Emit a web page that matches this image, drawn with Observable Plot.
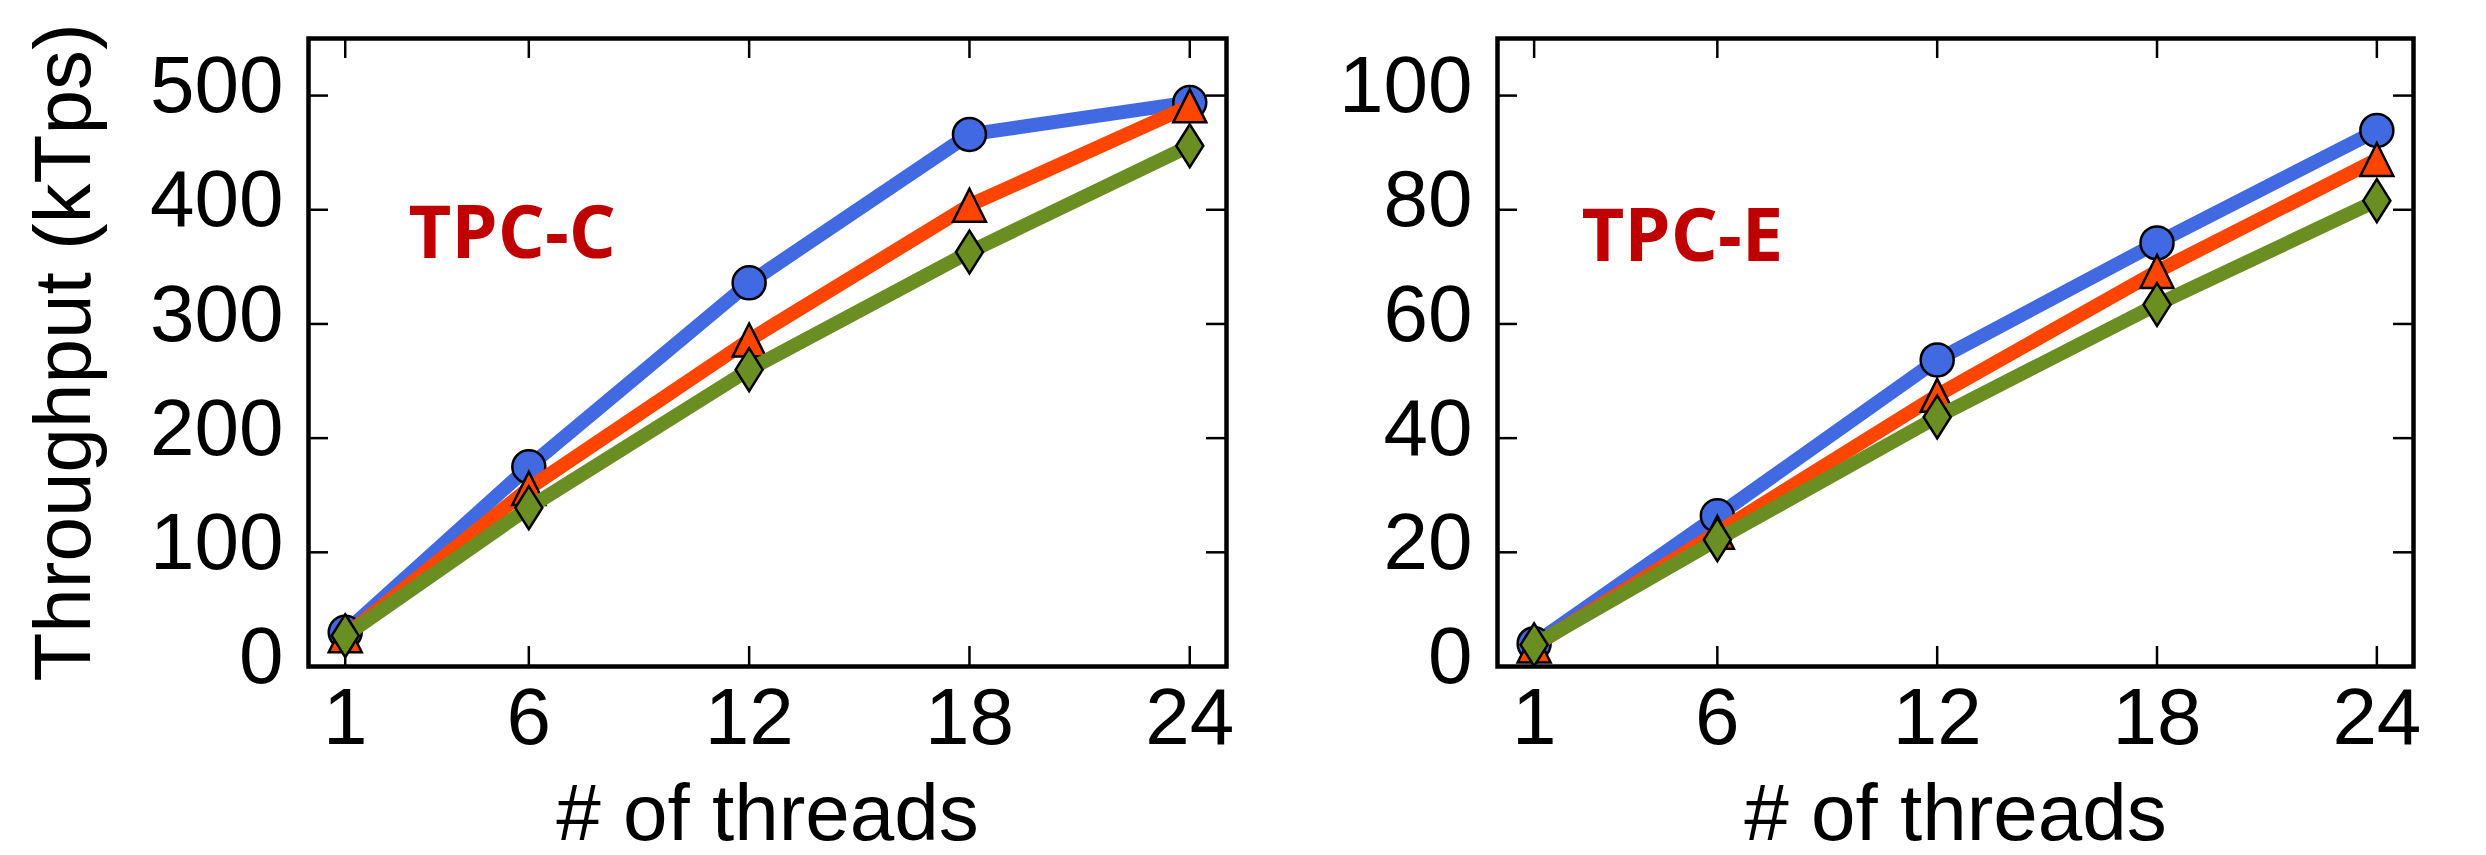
<!DOCTYPE html>
<html>
<head>
<meta charset="utf-8">
<script src="https://cdn.jsdelivr.net/npm/d3@7"></script>
<script src="https://cdn.jsdelivr.net/npm/@observablehq/plot@0.6"></script>
<style>
  html, body { margin: 0; padding: 0; background: white; }
  #chart { position: relative; width: 2486px; height: 855px; background: white; }
  #chart svg { position: absolute; top: 0; }
</style>
</head>
<body>
<div id="chart"></div>
<script>
// ---- data ----
const threads = [1, 6, 12, 18, 24];
const seriesNames = ["series A", "series B", "series C"];
const seriesColors = ["#4169E1", "#FF4500", "#6B8E23"];

const tpccA = [30, 175, 336, 466, 494];
const tpccB = [27, 156, 286, 404, 491];
const tpccC = [27, 139, 260, 363, 456];

const tpceA = [4.0, 26.4, 53.7, 74.2, 93.9];
const tpceB = [3.6, 23.5, 47.5, 69.2, 88.8];
const tpceC = [3.8, 22.2, 43.7, 63.4, 81.6];

const tpccTicks = [0, 100, 200, 300, 400, 500];
const tpceTicks = [0, 20, 40, 60, 80, 100];
const xTicks = [1, 6, 12, 18, 24];

const xLabel = "# of threads";
const yLabel = "Throughput (kTps)";
const panelTitles = ["TPC-C", "TPC-E"];

// ---- helpers ----
function rows(values, name) {
  return threads.map((t, i) => ({threads: t, value: values[i], series: name}));
}

const triangleUp = {
  draw(ctx, size) {
    const r = Math.sqrt(size / Math.PI);
    ctx.moveTo(0, -r);
    ctx.lineTo(r, r);
    ctx.lineTo(-r, r);
    ctx.closePath();
  }
};
const thinDiamond = {
  draw(ctx, size) {
    const r = Math.sqrt(size / Math.PI);
    const w = r * 0.82, h = r * 1.3;
    ctx.moveTo(0, -h);
    ctx.lineTo(w, 0);
    ctx.lineTo(0, h);
    ctx.lineTo(-w, 0);
    ctx.closePath();
  }
};
const symbols = ["circle", triangleUp, thinDiamond];

const FS = 80;

function panel({data, yDomain, yTicks, title, width, marginLeft, marginRight, titleDx, titleDy, showYLabel}) {
  const marginTop = 38, marginBottom = 189, height = 855;
  const H = height - marginTop - marginBottom;
  const W = width - marginLeft - marginRight;
  const tickLen = 20;
  const marks = [];
  // inward ticks on all four sides
  marks.push(Plot.tickX(xTicks, {x: d => d, insetTop: H - tickLen, stroke: "black", strokeWidth: 2.5}));
  marks.push(Plot.tickX(xTicks, {x: d => d, insetBottom: H - tickLen, stroke: "black", strokeWidth: 2.5}));
  marks.push(Plot.tickY(yTicks, {y: d => d, insetRight: W - tickLen, stroke: "black", strokeWidth: 2.5}));
  marks.push(Plot.tickY(yTicks, {y: d => d, insetLeft: W - tickLen, stroke: "black", strokeWidth: 2.5}));
  // series: line then markers, in order
  data.forEach((vals, i) => {
    const d = rows(vals, seriesNames[i]);
    marks.push(Plot.line(d, {x: "threads", y: "value", stroke: "series", strokeWidth: 14, strokeLinejoin: "round", strokeLinecap: "butt"}));
    marks.push(Plot.dot(d, {x: "threads", y: "value", fill: "series", symbol: symbols[i], r: 16.5, stroke: "black", strokeWidth: 2.5}));
  });
  marks.push(Plot.frame({stroke: "black", strokeWidth: 4.5}));
  marks.push(Plot.axisX(xTicks, {tickSize: 0, tickPadding: 21, label: null, fontSize: FS}));
  marks.push(Plot.axisY(yTicks, {tickSize: 0, tickPadding: 25, label: null, fontSize: FS, dy: -9}));
  marks.push(Plot.text([xLabel], {text: d => d, frameAnchor: "bottom", lineAnchor: "middle", dy: 148, fontSize: FS}));
  if (showYLabel) {
    marks.push(Plot.text([yLabel], {text: d => d, frameAnchor: "left", textAnchor: "middle", lineAnchor: "middle", rotate: -90, dx: -244, fontSize: FS}));
  }
  marks.push(Plot.text([title], {text: d => d, frameAnchor: "top-left", textAnchor: "start", lineAnchor: "top", dx: titleDx, dy: titleDy, fill: "#C00000", fontSize: 74, fontWeight: 700, fontFamily: "Open Sans, Noto Sans, sans-serif"}));
  return Plot.plot({
    width, height, marginTop, marginBottom, marginLeft, marginRight,
    style: {fontFamily: "Liberation Sans, Arial, sans-serif", fontSize: FS + "px", background: "transparent", overflow: "visible"},
    x: {domain: [0, 25], axis: null},
    y: {domain: yDomain, axis: null},
    color: {domain: seriesNames, range: seriesColors},
    marks
  });
}

const chart = document.getElementById("chart");
const left = panel({data: [tpccA, tpccB, tpccC], yDomain: [0, 550], yTicks: tpccTicks, title: panelTitles[0],
  width: 1250, marginLeft: 308, marginRight: 24, titleDx: 100, titleDy: 167, showYLabel: true});
left.style.left = "0px";
const right = panel({data: [tpceA, tpceB, tpceC], yDomain: [0, 110], yTicks: tpceTicks, title: panelTitles[1],
  width: 1236, marginLeft: 247, marginRight: 73, titleDx: 84, titleDy: 170, showYLabel: false});
right.style.left = "1250px";
chart.appendChild(left);
chart.appendChild(right);
</script>
</body>
</html>
